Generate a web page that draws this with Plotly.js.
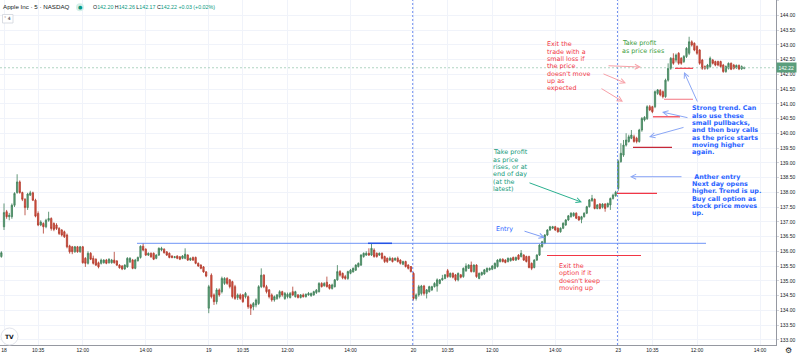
<!DOCTYPE html>
<html><head><meta charset="utf-8">
<script src="https://cdn.plot.ly/plotly-3.0.1.min.js"></script>
<style>html,body{margin:0;padding:0;background:#fff;}#chart{width:800px;height:357px;}</style>
</head><body><div id="chart"></div>
<script>
// ---- DATA (AAPL 5-min candles) ----
// previous session's last bar
const prevBar = {open:135.82, high:136.00, low:135.78, close:135.95};

// 18th
const open18 = [136.83,137.34,137.17,137.17,137.56,137.99,138.35,137.99,137.76,137.48,137.90,137.98,137.73,137.28,136.89,136.94,136.83,137.05,137.11,136.94,136.89,136.77,136.72,136.66,136.55,136.18,136.15,135.98,136.15,135.98,136.15,135.76,135.59,135.93,135.76,135.73,135.61,135.59,135.61,135.70,135.61,135.61,135.70,135.67,135.53,135.50,135.40,135.47,135.64,135.70,135.42,135.68,135.79,136.17,136.07,135.87,135.93,135.93,135.76,135.87,136.04,136.07,135.98,135.93,135.84,135.79,135.84,135.81,135.76,135.76,135.87,135.70,135.79,135.79,135.59,135.53,135.47,135.30];
const high18 = [137.62,137.40,137.30,137.62,138.00,138.61,138.40,138.02,137.80,137.98,138.05,138.02,137.78,137.35,137.05,136.98,137.10,137.34,137.15,136.98,136.95,136.82,136.75,136.70,136.60,136.22,136.18,136.18,136.18,136.18,136.18,135.80,136.00,135.97,135.85,135.76,135.65,135.75,135.73,135.74,135.76,135.74,135.98,135.70,135.56,135.53,135.56,135.80,135.80,135.74,135.74,135.82,136.20,136.28,136.10,135.96,135.96,135.96,135.90,136.13,136.15,136.10,136.00,135.96,135.86,135.84,135.86,135.84,135.87,136.10,135.90,135.79,135.82,135.82,135.62,135.56,135.50,135.33];
const low18 = [136.72,137.10,137.05,137.10,137.50,137.95,137.95,137.70,137.22,137.40,137.88,137.70,137.15,136.85,136.85,136.60,136.78,137.00,136.70,136.68,136.72,136.55,136.50,136.45,136.10,135.92,135.90,135.95,135.95,135.95,135.58,135.47,135.55,135.70,135.55,135.50,135.42,135.55,135.58,135.56,135.58,135.58,135.58,135.50,135.41,135.36,135.37,135.44,135.60,135.39,135.39,135.65,135.75,136.00,135.84,135.84,135.78,135.70,135.73,135.84,136.00,135.92,135.84,135.76,135.76,135.76,135.73,135.70,135.73,135.73,135.67,135.67,135.67,135.56,135.47,135.39,135.27,135.12];
const close18 = [137.31,137.17,137.22,137.56,137.96,138.35,137.99,137.76,137.48,137.94,137.98,137.73,137.19,136.89,136.99,136.83,137.05,137.11,136.77,136.74,136.77,136.60,136.55,136.49,136.15,135.98,135.98,136.15,135.98,136.15,135.61,135.59,135.93,135.73,135.59,135.53,135.47,135.70,135.70,135.59,135.73,135.70,135.61,135.53,135.44,135.40,135.53,135.76,135.76,135.42,135.70,135.79,136.17,136.04,135.87,135.93,135.81,135.73,135.87,136.10,136.10,135.95,135.87,135.79,135.79,135.81,135.76,135.73,135.84,135.90,135.70,135.76,135.70,135.59,135.50,135.42,135.30,135.16];

// 19th
const open19 = [134.07,135.19,134.52,134.29,134.69,134.63,134.91,135.08,135.03,134.97,134.80,134.43,134.52,134.52,134.46,134.46,134.18,134.12,134.18,134.23,134.80,135.19,134.80,134.69,134.52,134.35,134.40,134.46,134.63,134.40,134.46,134.43,134.63,134.46,134.52,134.43,134.52,134.46,134.52,134.49,134.52,134.60,134.63,134.91,134.83,134.95,134.86,134.74,134.80,135.03,135.31,135.25,135.14,135.08,135.25,135.30,135.36,135.48,135.53,135.82,135.87,135.93,135.87,136.04,135.93,135.87,135.93,135.82,135.76,135.70,135.76,135.70,135.76,135.70,135.56,135.65,135.53,135.48];
const high19 = [134.86,135.25,134.57,134.75,134.74,135.14,135.12,135.12,135.06,135.00,134.86,134.57,134.57,134.55,134.62,134.50,134.22,134.28,134.40,134.85,135.42,135.22,134.86,134.72,134.57,134.50,134.55,134.68,134.66,134.62,134.60,134.62,134.80,134.66,134.55,134.55,134.57,134.57,134.62,134.60,134.66,134.72,134.95,134.95,134.95,135.14,134.89,134.90,135.06,135.53,135.36,135.28,135.20,135.34,135.40,135.45,135.56,135.62,135.90,135.96,136.00,136.10,136.27,136.10,135.96,135.96,135.96,135.85,135.79,135.82,135.79,135.79,135.82,135.73,135.68,135.68,135.56,135.50];
const low19 = [133.90,134.40,134.18,134.20,134.46,134.57,134.86,134.86,134.74,134.40,134.35,134.35,134.35,134.25,134.40,134.05,133.84,134.00,134.10,134.18,134.75,134.75,134.57,134.40,134.29,134.29,134.35,134.40,134.46,134.35,134.40,134.40,134.48,134.43,134.40,134.40,134.43,134.43,134.49,134.46,134.49,134.55,134.60,134.77,134.80,134.77,134.70,134.70,134.77,135.00,135.14,135.05,135.03,135.03,135.22,135.28,135.33,135.45,135.50,135.78,135.84,135.84,135.84,135.78,135.78,135.84,135.72,135.60,135.60,135.67,135.62,135.67,135.62,135.55,135.53,135.45,135.38,135.28];
const close19 = [134.80,134.46,134.29,134.69,134.52,135.08,135.08,134.91,134.80,134.46,134.40,134.52,134.40,134.29,134.57,134.12,134.07,134.23,134.35,134.80,135.19,134.80,134.63,134.46,134.35,134.46,134.52,134.63,134.52,134.57,134.54,134.57,134.52,134.63,134.43,134.52,134.46,134.54,134.57,134.57,134.63,134.68,134.91,134.80,134.91,134.80,134.74,134.86,135.03,135.31,135.19,135.10,135.08,135.31,135.36,135.42,135.53,135.59,135.87,135.93,135.93,135.87,136.10,135.82,135.82,135.93,135.76,135.65,135.65,135.76,135.65,135.76,135.65,135.59,135.65,135.48,135.42,135.31];

// 20th
const open20 = [135.25,134.40,134.52,134.57,134.82,134.57,134.63,134.69,134.80,134.82,134.91,135.03,135.08,135.34,135.14,135.25,135.20,135.03,135.20,135.14,135.34,135.42,135.53,135.31,135.53,135.08,135.20,135.23,135.31,135.37,135.39,135.42,135.48,135.65,135.73,135.70,135.65,135.68,135.79,135.70,135.87,135.82,135.87,135.82,135.82,135.59,135.45,135.70,135.87,136.16,136.27,136.55,136.72,136.78,136.83,136.78,136.66,136.78,136.89,137.06,137.17,137.20,137.29,137.17,137.08,137.17,137.29,137.51,137.71,137.76,137.45,137.60,137.49,137.60,137.51,137.57,137.79,137.88];
const high20 = [135.30,134.57,134.86,134.86,134.86,134.72,134.83,134.83,134.95,135.08,135.06,135.20,135.23,135.40,135.28,135.28,135.23,135.28,135.23,135.45,135.59,135.56,135.65,135.56,135.56,135.28,135.31,135.40,135.45,135.45,135.53,135.62,135.73,135.76,135.76,135.73,135.79,135.79,135.82,135.82,135.90,136.04,135.90,135.85,135.85,135.62,135.73,135.90,136.24,136.35,136.58,136.75,136.86,136.86,136.86,136.81,136.81,136.98,137.09,137.23,137.32,137.32,137.32,137.20,137.20,137.32,137.54,137.77,137.91,137.79,137.60,137.63,137.63,137.63,137.65,137.82,137.95,138.05];
const low20 = [134.33,134.33,134.46,134.50,134.50,134.40,134.60,134.65,134.77,134.63,134.88,135.00,135.05,135.10,135.10,135.08,134.98,134.98,135.08,135.10,135.30,135.40,135.28,135.28,135.10,135.05,135.17,135.20,135.28,135.34,135.36,135.39,135.45,135.62,135.62,135.59,135.62,135.65,135.67,135.67,135.70,135.79,135.67,135.62,135.42,135.36,135.42,135.67,135.84,136.12,136.24,136.52,136.69,136.75,136.69,136.63,136.63,136.75,136.86,137.03,137.14,137.17,137.09,137.03,136.95,137.14,137.26,137.48,137.68,137.42,137.42,137.42,137.45,137.34,137.48,137.40,137.75,137.85];
const close20 = [134.40,134.52,134.80,134.82,134.57,134.69,134.80,134.80,134.91,135.03,135.03,135.08,135.20,135.14,135.25,135.12,135.03,135.25,135.12,135.42,135.50,135.53,135.31,135.53,135.14,135.25,135.28,135.37,135.42,135.42,135.50,135.59,135.70,135.73,135.65,135.62,135.76,135.76,135.70,135.79,135.73,135.93,135.70,135.65,135.45,135.42,135.70,135.87,136.21,136.32,136.55,136.72,136.83,136.83,136.72,136.66,136.78,136.95,137.06,137.20,137.29,137.29,137.12,137.06,137.17,137.29,137.51,137.74,137.79,137.45,137.57,137.45,137.60,137.45,137.62,137.79,137.90,138.00];

// 23rd
const open23 = [138.13,139.04,139.26,139.60,139.72,139.83,139.88,139.83,139.72,140.11,140.45,140.50,140.90,140.90,140.90,141.35,141.45,141.41,141.24,141.80,142.20,142.54,142.48,142.71,142.54,142.43,142.60,142.71,143.10,143.05,142.94,142.82,142.48,142.26,142.20,142.26,142.48,142.43,142.43,142.43,142.31,142.09,142.20,142.37,142.31,142.22,142.30,142.18,142.20];
const high23 = [139.10,139.66,139.77,140.00,139.95,140.11,139.95,139.88,140.15,140.55,140.58,140.95,140.96,140.93,141.45,141.50,141.50,141.45,141.85,142.37,142.58,142.71,142.70,142.75,142.58,142.65,142.92,143.27,143.15,143.08,142.98,142.85,142.52,142.30,142.35,142.60,142.52,142.46,142.46,142.46,142.35,142.30,142.40,142.40,142.35,142.33,142.33,142.30,142.26];
const low23 = [138.05,139.00,139.20,139.55,139.68,139.80,139.68,139.66,139.68,140.05,140.40,140.45,140.75,140.68,140.85,141.30,141.25,141.18,141.20,141.75,142.15,142.32,142.40,142.32,142.32,142.38,142.55,142.65,142.94,142.78,142.66,142.32,142.15,142.15,142.16,142.22,142.33,142.27,142.27,142.22,142.05,142.05,142.16,142.14,142.16,142.18,142.14,142.15,142.17];
const close23 = [139.04,139.32,139.60,139.77,139.88,139.94,139.72,139.72,140.11,140.50,140.54,140.90,140.79,140.73,141.41,141.47,141.30,141.24,141.80,142.20,142.54,142.37,142.65,142.37,142.37,142.60,142.88,143.10,142.99,142.82,142.71,142.37,142.20,142.20,142.31,142.54,142.37,142.31,142.31,142.26,142.09,142.26,142.37,142.17,142.20,142.30,142.18,142.26,142.22];

// tick labels (bar index within series -> label)
const tickIdx = [0, 13, 30, 54, 78, 91, 108, 132, 156, 169, 186, 210, 234, 247, 264, 288];
const tickTxt = ['18','10:35','12:00','14:00','19','10:35','12:00','14:00','20','10:35','12:00','14:00','23','10:35','12:00','14:00'];
const dayStartIdx = [156, 234];   // dashed session separators
const lastPrice = 142.22;

// ---- build ----
const days = [[open18,high18,low18,close18],[open19,high19,low19,close19],[open20,high20,low20,close20],[open23,high23,low23,close23]];
days.forEach((d,k)=>{ const n=d[0].length; d.forEach(a=>{ if(a.length!==n) throw new Error('length mismatch day '+k+': '+d.map(z=>z.length).join(',')); }); });
const O=[prevBar.open], H=[prevBar.high], L=[prevBar.low], C=[prevBar.close];
days.forEach(d=>{ O.push(...d[0]); H.push(...d[1]); L.push(...d[2]); C.push(...d[3]); });
const X = O.map((_,i)=>i-1);

// pixel helpers for overlay drawings (plot area 776x345)
const px2x = px => (px-4)/2.625;
const py2p = py => 138.5 - (py-177.5)/29.5;

const FONT = 'DejaVu Sans';
const RED='#f23645', BLUE='#2962ff', GREEN='#3a9d3a', TEAL='#12997a';
const ann = [];
function block(lines, px, py, color, bold){
  lines.forEach((t,k)=>ann.push({xref:'x',yref:'y',x:px2x(px),y:py2p(py+k*7.3),text:bold?'<b>'+t+'</b>':t,
    showarrow:false,xanchor:'left',yanchor:'middle',borderpad:0,font:{family:FONT,size:6.4,color}}));
}
function arrow(tx,ty,hx,hy,color){
  ann.push({xref:'x',yref:'y',x:px2x(hx),y:py2p(hy),ax:tx-hx,ay:ty-hy,axref:'pixel',ayref:'pixel',text:'',
    showarrow:true,arrowhead:5,arrowsize:1,arrowwidth:1,arrowcolor:color,standoff:0});
}
block(['Exit the','trade with a','small loss if','the price',"doesn't move",'up as','expected'],546,44.3,RED,false);
block(['Take profit','as price rises'],620.5,43.3,GREEN,false);
block(['Take profit','as price','rises, or at','end of day','(at the','latest)'],492,152.3,TEAL,false);
block(['Entry'],495,229.3,BLUE,false);
block(['Exit the','option if it',"doesn't keep",'moving up'],558,266,RED,false);
block(['Strong trend. Can','also use these','small pullbacks,','and then buy calls','as the price starts','moving higher','again.'],691,108.3,BLUE,true);
block([' Anther entry'],691,176.7,BLUE,true);
block(['Next day opens','higher. Trend is up.','Buy call option as','stock price moves','up.'],691,184,BLUE,true);

arrow(607,65.7,641,67,'#f7a1a8');
arrow(602,73.3,626,83.3,'#f7a1a8');
arrow(600,87.7,623,101.7,'#f7a1a8');
arrow(528,182.3,582,202.3,'#2bb08f');
arrow(523,230.7,545,237.7,'#7f9ef5');
arrow(683,176.7,630,176.7,'#8aa6f5');
arrow(698,103,684,72,'#8aa6f5');
arrow(689,118,662,112,'#8aa6f5');
arrow(685,127,649,137,'#8aa6f5');

// header
ann.push({xref:'paper',yref:'paper',x:1/776,y:1-7/345,text:'Apple Inc · 5 · NASDAQ',showarrow:false,xanchor:'left',yanchor:'middle',font:{family:'Liberation Sans',size:6.2,color:'#131722'}});
ann.push({xref:'paper',yref:'paper',x:80/776,y:1-7.3/345,text:'●',showarrow:false,xanchor:'center',yanchor:'middle',font:{family:FONT,size:5,color:'#089981'}});
ann.push({xref:'paper',yref:'paper',x:91/776,y:1-7/345,showarrow:false,xanchor:'left',yanchor:'middle',font:{family:'Liberation Sans',size:5.3,color:'#089981'},
  text:'<span style="color:#131722">O</span>142.20 <span style="color:#131722">H</span>142.26 <span style="color:#131722">L</span>142.17 <span style="color:#131722">C</span>142.22 +0.03 (+0.02%)'});
ann.push({xref:'paper',yref:'paper',x:7.5/776,y:1-18.5/345,text:'˅ 4',showarrow:false,xanchor:'center',yanchor:'middle',font:{family:FONT,size:4.5,color:'#131722'}});
ann.push({xref:'paper',yref:'paper',x:9.5/776,y:1-336/345,text:'<b>TV</b>',showarrow:false,xanchor:'center',yanchor:'middle',font:{family:FONT,size:6,color:'#131722'}});
ann.push({xref:'paper',yref:'paper',x:788/776,y:-6/345,text:'⚙',showarrow:false,xanchor:'center',yanchor:'middle',font:{family:FONT,size:8,color:'#131722'}});
ann.push({xref:'paper',yref:'y',x:1.0005,y:lastPrice,text:'142.22',showarrow:false,xanchor:'left',yanchor:'middle',bgcolor:'#5a9e7c',borderpad:1.5,font:{family:'Liberation Sans',size:5,color:'#ffffff'}});

const shapes = [];
function hline(p1,p2,py,color,w){ shapes.push({type:'line',xref:'x',yref:'y',x0:px2x(p1),x1:px2x(p2),y0:py2p(py),y1:py2p(py),line:{color,width:w||1}}); }
dayStartIdx.forEach(i=>shapes.push({type:'line',xref:'x',yref:'paper',x0:i-0.3,x1:i-0.3,y0:0,y1:1,line:{color:'#6f8ff0',width:1,dash:'2px,2px'}}));
shapes.push({type:'line',xref:'paper',yref:'y',x0:0,x1:1,y0:lastPrice,y1:lastPrice,line:{color:'#9cc9b3',width:0.8,dash:'2px,2px'}});
hline(137,706,243.3,'#6f94f7',1);
hline(368,392,243.3,'#2454e6',1.5);
hline(675,693,68.3,RED,1.2);
hline(664,693,99.3,'#f58c96',1.2);
hline(653,680,116.8,RED,1.2);
hline(633,672,147.3,'#c62838',1.2);
hline(617,657,193.3,RED,1.2);
hline(547,641,255.5,RED,1);
shapes.push({type:'circle',xref:'paper',yref:'paper',x0:1/776,x1:18/776,y0:1-345/345,y1:1-328/345,line:{color:'#e0e3eb',width:1},fillcolor:'#ffffff',layer:'above'});
shapes.push({type:'rect',xref:'paper',yref:'paper',x0:2.5/776,x1:13/776,y0:1-23/345,y1:1-14.5/345,line:{color:'#d1d4dc',width:0.8},fillcolor:'#ffffff',layer:'above'});
shapes.push({type:'circle',xref:'paper',yref:'paper',x0:76/776,x1:84/776,y0:1-11.3/345,y1:1-3.3/345,line:{width:0},fillcolor:'#d5efe9',layer:'above'});

const trace = {type:'candlestick',x:X,open:O,high:H,low:L,close:C,
  increasing:{line:{color:'#3f7f58',width:0.8},fillcolor:'#5fa47c'},
  decreasing:{line:{color:'#b03a2c',width:0.8},fillcolor:'#e05644'},
  whiskerwidth:0,hoverinfo:'none'};

const layout = {width:800,height:357,margin:{l:0,r:24,t:0,b:12},paper_bgcolor:'#fff',plot_bgcolor:'#fff',showlegend:false,
  xaxis:{range:[px2x(0),px2x(776)],rangeslider:{visible:false},tickvals:tickIdx,ticktext:tickTxt,showgrid:true,gridcolor:'#f0f3fa',gridwidth:1,
    zeroline:false,showline:true,linecolor:'#9598a1',linewidth:1,ticks:'',tickfont:{family:'Liberation Sans',size:5,color:'#131722'},fixedrange:true},
  yaxis:{side:'right',range:[py2p(345),py2p(0)],dtick:0.5,tick0:133,tickformat:'.2f',showgrid:true,gridcolor:'#f0f3fa',zeroline:false,
    showline:true,linecolor:'#9598a1',linewidth:1,ticks:'outside',ticklen:2,tickcolor:'#d1d4dc',tickfont:{family:'Liberation Sans',size:5,color:'#131722'},fixedrange:true},
  shapes, annotations:ann};
Plotly.newPlot('chart',[trace],layout,{staticPlot:true,displayModeBar:false});
</script></body></html>
